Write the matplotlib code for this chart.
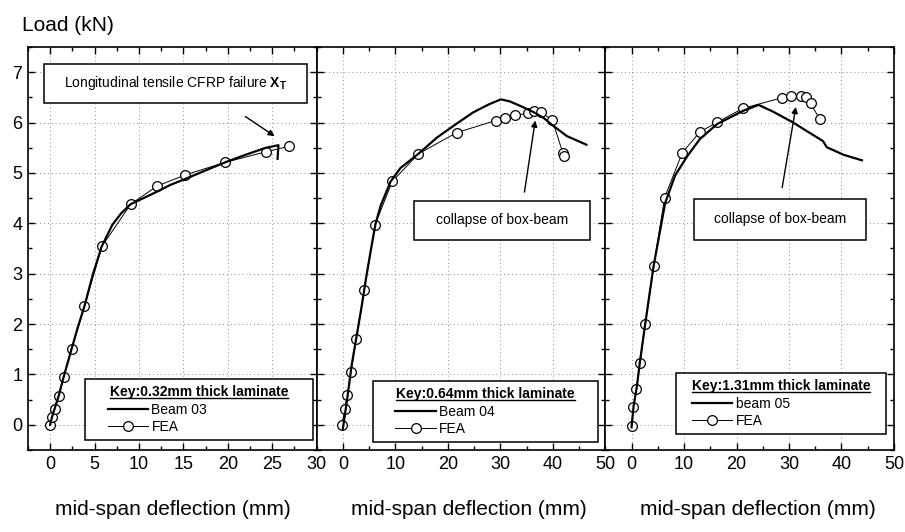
import matplotlib
matplotlib.use('Agg')
import matplotlib.pyplot as plt
from matplotlib.lines import Line2D
from matplotlib.patches import Rectangle
from matplotlib.legend_handler import HandlerLine2D
from matplotlib.ticker import MultipleLocator

plt.rcParams['font.family'] = 'Liberation Sans'
plt.rcParams['mathtext.fontset'] = 'custom'
plt.rcParams['mathtext.rm'] = 'Liberation Sans'
plt.rcParams['mathtext.bf'] = 'Liberation Sans:bold'

# Beam 03 - 0.32mm laminate
beam03_x = [0, 0.2, 0.5, 0.95, 1.5, 2.4, 3.1, 3.85, 4.8, 5.8, 7.0, 8.0, 9.06, 10.5,
            12.05, 13.5, 15.2, 17.5, 19.7, 22.0, 24.3, 25.7, 25.6]
beam03_y = [0, 0.15, 0.32, 0.57, 0.94, 1.5, 1.93, 2.35, 2.98, 3.54, 3.97, 4.2, 4.38, 4.5,
            4.63, 4.76, 4.88, 5.05, 5.21, 5.36, 5.5, 5.55, 5.28]
fea03_x = [0, 0.17, 0.49, 0.95, 1.51, 2.43, 3.85, 5.82, 9.06, 12.05, 15.2, 19.7, 24.3, 26.9]
fea03_y = [0, 0.15, 0.32, 0.57, 0.94, 1.50, 2.35, 3.54, 4.38, 4.74, 4.96, 5.21, 5.42, 5.53]

# Beam 04 - 0.64mm laminate
beam04_x = [0.0, 0.8, 1.7, 2.6, 3.5, 4.4, 5.3, 6.2, 7.2, 9.1, 11.0, 14.4, 17.9, 21.7,
            24.8, 27.8, 30.1, 31.8, 33.8, 36.3, 38.4, 39.9, 42.7, 46.4]
beam04_y = [-0.08, 0.5, 1.2, 1.75, 2.3, 2.9, 3.45, 3.98, 4.35, 4.83, 5.1, 5.38, 5.7, 5.98,
            6.2, 6.36, 6.46, 6.42, 6.33, 6.21, 6.08, 5.95, 5.73, 5.56]
fea04_x = [-0.2, 0.38, 0.85, 1.53, 2.55, 4.08, 6.13, 9.4, 14.4, 21.7, 29.1, 30.9, 32.8,
           35.3, 36.4, 37.8, 39.9, 41.9, 42.2]
fea04_y = [0, 0.31, 0.59, 1.04, 1.70, 2.68, 3.97, 4.83, 5.38, 5.80, 6.04, 6.10, 6.14,
           6.19, 6.22, 6.20, 6.05, 5.40, 5.33]

# Beam 05 - 1.31mm laminate
beam05_x = [0.0, 0.4, 1.0, 1.6, 2.6, 4.2, 6.4, 8.3, 10.6, 13.0, 16.3, 21.2, 24.2, 26.9,
            30.8, 33.4, 36.5, 37.2, 40.4, 43.9]
beam05_y = [-0.05, 0.38, 0.75, 1.25, 2.0, 3.15, 4.4, 4.95, 5.33, 5.67, 5.97, 6.23, 6.35, 6.22,
            6.0, 5.83, 5.63, 5.51, 5.36, 5.25]
fea05_x = [0, 0.37, 0.94, 1.62, 2.63, 4.22, 6.31, 9.66, 12.99, 16.36, 21.21, 28.58, 30.37,
           32.27, 33.27, 34.1, 35.85]
fea05_y = [-0.02, 0.35, 0.71, 1.22, 2.0, 3.15, 4.51, 5.40, 5.81, 6.01, 6.28, 6.49, 6.52,
           6.53, 6.51, 6.38, 6.07]

beam_labels = ['Beam 03', 'Beam 04', 'beam 05']
key_titles = ['Key:0.32mm thick laminate', 'Key:0.64mm thick laminate', 'Key:1.31mm thick laminate']
notes = [r'Longitudinal tensile CFRP failure $\mathbf{X_T}$', 'collapse of box-beam', 'collapse of box-beam']

panels = [
    dict(bx=beam03_x, by=beam03_y, fx=fea03_x, fy=fea03_y, xlim=(-2.5, 30), major=5, minor=2.5,
         note_box=(0.055, 0.862, 0.911, 0.096), arrow=((21.97, 6.12), (25.27, 5.73)),
         leg_box=(0.199, 0.024, 0.787, 0.171), xpad=1.15, xlab=0.503),
    dict(bx=beam04_x, by=beam04_y, fx=fea04_x, fy=fea04_y, xlim=(-5, 50), major=10, minor=5,
         note_box=(0.338, 0.52, 0.609, 0.099), arrow=((34.6, 4.62), (36.65, 6.04)),
         leg_box=(0.196, 0.019, 0.780, 0.171), xpad=1.15, xlab=0.528),
    dict(bx=beam05_x, by=beam05_y, fx=fea05_x, fy=fea05_y, xlim=(-5, 50), major=10, minor=5,
         note_box=(0.307, 0.522, 0.595, 0.102), arrow=((28.7, 4.71), (31.3, 6.31)),
         leg_box=(0.245, 0.039, 0.727, 0.149), xpad=0.7, xlab=0.528),
]

fig, axs = plt.subplots(1, 3, figsize=(9.05, 5.32), dpi=100)
fig.subplots_adjust(left=0.0309, right=0.9878, bottom=0.1541, top=0.9117, wspace=0)

legends = []
for i, (ax, p) in enumerate(zip(axs, panels)):
    fea, = ax.plot(p['fx'], p['fy'], color='k', lw=0.7, marker='o', ms=7,
                   mfc='white', mec='k', mew=0.9, zorder=2, label='FEA')
    beam, = ax.plot(p['bx'], p['by'], color='k', lw=1.6, zorder=3, label=beam_labels[i])

    ax.set_xlim(*p['xlim'])
    ax.set_ylim(-0.5, 7.5)
    ax.xaxis.set_major_locator(MultipleLocator(p['major']))
    ax.xaxis.set_minor_locator(MultipleLocator(p['minor']))
    ax.yaxis.set_major_locator(MultipleLocator(1))
    ax.yaxis.set_minor_locator(MultipleLocator(0.5))
    ax.tick_params(which='both', direction='in', top=True, right=True, labelsize=13, width=1, pad=4)
    ax.tick_params(which='major', length=5)
    ax.tick_params(which='minor', length=3)
    if i > 0:
        ax.tick_params(labelleft=False)
    for s in ax.spines.values():
        s.set_linewidth(1.2)
    ax.grid(True, which='major', color='0.55', linestyle=(0, (1, 3)), linewidth=0.7)
    ax.set_axisbelow(True)

    ax.set_xlabel('mid-span deflection (mm)', fontsize=15)
    ax.xaxis.set_label_coords(p['xlab'], -0.125)

    # boxed note with arrow
    x0, y0, w, h = p['note_box']
    ax.add_patch(Rectangle((x0, y0), w, h, transform=ax.transAxes, facecolor='white',
                           edgecolor='k', lw=1.1, zorder=4))
    ax.text(x0 + w / 2, y0 + h / 2, notes[i], transform=ax.transAxes, ha='center', va='center',
            fontsize=10, zorder=5)
    start, end = p['arrow']
    ax.annotate('', xy=end, xytext=start,
                arrowprops=dict(arrowstyle='-|>', color='k', lw=1.0, mutation_scale=9,
                                shrinkA=0, shrinkB=0))

    leg = ax.legend(handles=[beam, fea], title=key_titles[i], loc='lower left',
                    bbox_to_anchor=p['leg_box'], mode='expand', borderaxespad=0,
                    borderpad=0.45, labelspacing=0.25, handlelength=2.9 + p['xpad'],
                    handletextpad=0.25, fontsize=10,
                    title_fontproperties={'weight': 'bold', 'size': 10},
                    fancybox=False, edgecolor='k', framealpha=1,
                    handler_map={Line2D: HandlerLine2D(xpad=p['xpad'])})
    leg.get_frame().set_linewidth(1.1)
    legends.append(leg)

fig.text(0.0243, 0.953, 'Load (kN)', fontsize=15, ha='left', va='center')

# underline the legend titles
fig.canvas.draw()
inv = fig.transFigure.inverted()
for leg in legends:
    bb = leg.get_title().get_window_extent()
    (ux0, uy), (ux1, _) = inv.transform([(bb.x0, bb.y0 + 1), (bb.x1, bb.y0 + 1)])
    fig.add_artist(Line2D([ux0, ux1], [uy, uy], transform=fig.transFigure, color='k', lw=1.0))

fig.savefig('out.png', dpi=100)
